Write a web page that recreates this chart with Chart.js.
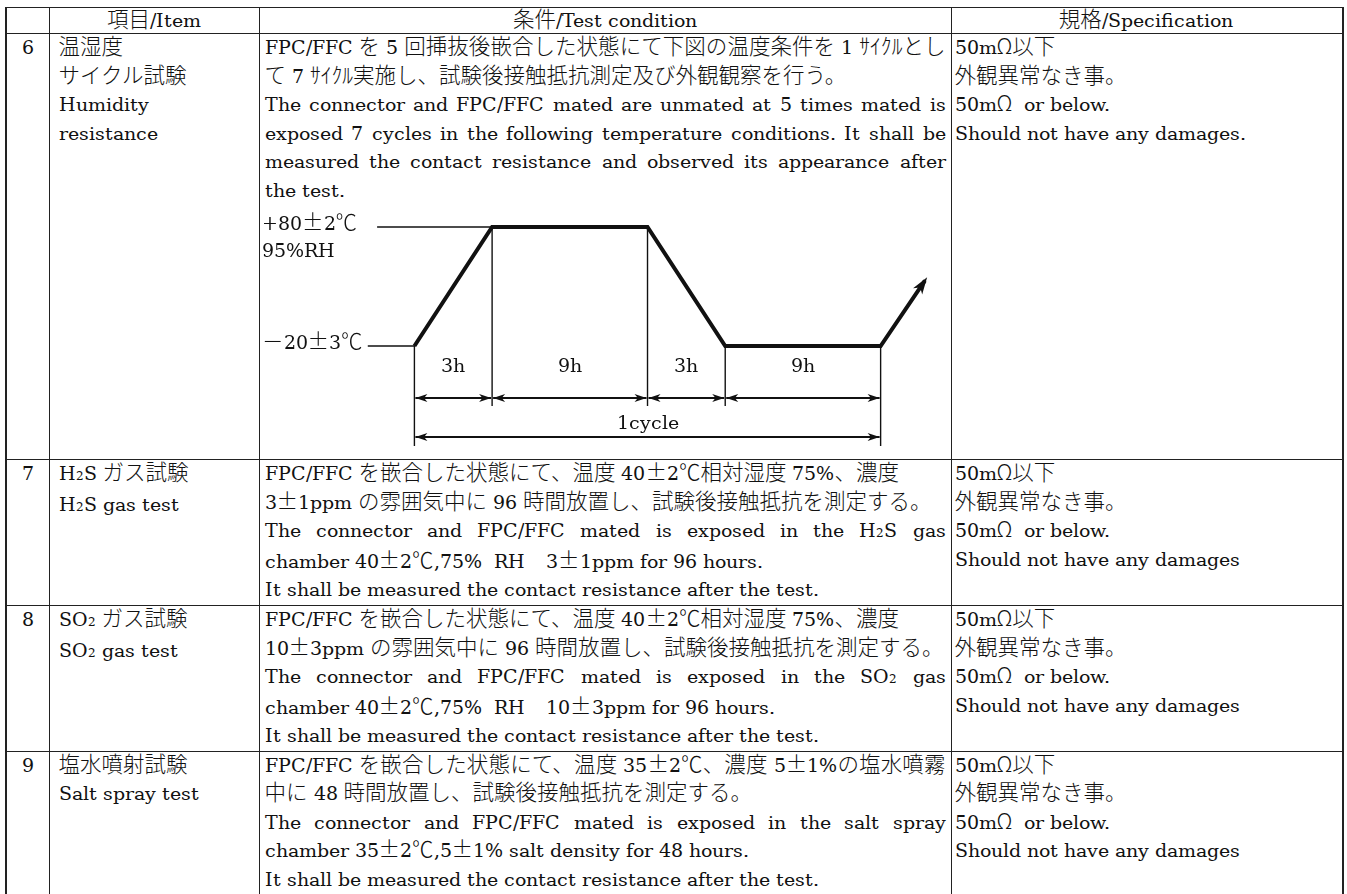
<!DOCTYPE html>
<html lang="ja">
<head>
<meta charset="utf-8">
<title>温湿度サイクル試験</title>
<script src="https://cdn.jsdelivr.net/npm/chart.js@4.4.1/dist/chart.umd.min.js"></script>
<style>
  @font-face {
    font-family: 'Cent';
    src: local('DejaVu Serif');
    size-adjust: 90.5%;
    unicode-range: U+0020-007E;
  }
  html, body { margin: 0; padding: 0; background: #fff; }
  body {
    width: 1347px; height: 894px; overflow: hidden; position: relative;
    font: 300 21.5px/28.5px Cent, 'Noto Sans CJK JP', serif; color: #111;
  }
  table { position: absolute; left: 5px; top: 7px; border-collapse: collapse; table-layout: fixed; }
  td { border: 1px solid #222; vertical-align: top; padding: 0 5px; }
  tr.hd td { text-align: center; vertical-align: middle; line-height: 25px; }
  td.n { text-align: center; padding: 0; border-left-width: 2px; }
  td.item { padding-left: 9px; }
  td.spec { padding-left: 3px; border-right-width: 2px; }
  .j { text-align: justify; text-align-last: justify; }
  .nw { white-space: nowrap; }
  .sub { font-size: 0.62em; }
  #chartBox { position: absolute; left: 259px; top: 200px; width: 690px; height: 255px; }
</style>
</head>
<body>

<table>
  <colgroup>
    <col style="width:43px"><col style="width:210px"><col style="width:692px"><col style="width:392px">
  </colgroup>
  <tr class="hd" style="height:26px">
    <td class="n"></td><td>項目/Item</td><td>条件/Test condition</td><td class="spec">規格/Specification</td>
  </tr>
  <tr style="height:426px">
    <td class="n">6</td>
    <td class="item">温湿度<br>サイクル試験<br>Humidity<br>resistance</td>
    <td>
      <div class="j">FPC/FFC を 5 回挿抜後嵌合した状態にて下図の温度条件を 1 ｻｲｸﾙとし</div>
      <div class="nw">て 7 ｻｲｸﾙ実施し、試験後接触抵抗測定及び外観観察を行う。</div>
      <div class="j">The connector and FPC/FFC mated are unmated at 5 times mated is</div>
      <div class="j">exposed 7 cycles in the following temperature conditions. It shall be</div>
      <div class="j">measured the contact resistance and observed its appearance after</div>
      <div>the test.</div>
    </td>
    <td class="spec">50mΩ以下<br>外観異常なき事。<br>50mΩ&nbsp; or below.<br>Should not have any damages.</td>
  </tr>
  <tr style="height:146px">
    <td class="n">7</td>
    <td class="item">H<span class="sub">2</span>S ガス試験<br>H<span class="sub">2</span>S gas test</td>
    <td>
      <div class="nw">FPC/FFC を嵌合した状態にて、温度 40±2℃相対湿度 75%、濃度</div>
      <div class="nw">3±1ppm の雰囲気中に 96 時間放置し、試験後接触抵抗を測定する。</div>
      <div class="j">The connector and FPC/FFC mated is exposed in the H<span class="sub">2</span>S gas</div>
      <div class="nw">chamber 40±2℃,75%&nbsp; RH　3±1ppm for 96 hours.</div>
      <div class="nw">It shall be measured the contact resistance after the test.</div>
    </td>
    <td class="spec">50mΩ以下<br>外観異常なき事。<br>50mΩ&nbsp; or below.<br>Should not have any damages</td>
  </tr>
  <tr style="height:144px">
    <td class="n">8</td>
    <td class="item">SO<span class="sub">2</span> ガス試験<br>SO<span class="sub">2</span> gas test</td>
    <td>
      <div class="nw">FPC/FFC を嵌合した状態にて、温度 40±2℃相対湿度 75%、濃度</div>
      <div class="nw">10±3ppm の雰囲気中に 96 時間放置し、試験後接触抵抗を測定する。</div>
      <div class="j">The connector and FPC/FFC mated is exposed in the SO<span class="sub">2</span> gas</div>
      <div class="nw">chamber 40±2℃,75%&nbsp; RH　10±3ppm for 96 hours.</div>
      <div class="nw">It shall be measured the contact resistance after the test.</div>
    </td>
    <td class="spec">50mΩ以下<br>外観異常なき事。<br>50mΩ&nbsp; or below.<br>Should not have any damages</td>
  </tr>
  <tr style="height:220px">
    <td class="n">9</td>
    <td class="item">塩水噴射試験<br>Salt spray test</td>
    <td>
      <div class="j">FPC/FFC を嵌合した状態にて、温度 35±2℃、濃度 5±1%の塩水噴霧</div>
      <div class="nw">中に 48 時間放置し、試験後接触抵抗を測定する。</div>
      <div class="j">The connector and FPC/FFC mated is exposed in the salt spray</div>
      <div class="nw">chamber 35±2℃,5±1% salt density for 48 hours.</div>
      <div class="nw">It shall be measured the contact resistance after the test.</div>
    </td>
    <td class="spec">50mΩ以下<br>外観異常なき事。<br>50mΩ&nbsp; or below.<br>Should not have any damages</td>
  </tr>
</table>

<div id="chartBox"><canvas id="cycleChart" width="690" height="255"></canvas></div>

<script>
'use strict';

// ─── temperature cycle sketch data ───
const segLabels = ['3h', '9h', '3h', '9h'];
const segUnits = [1, 2, 1, 2];              // ramp / hold widths as drawn (not to scale)
const profileTemp = [-20, 80, 80, -20, -20];
const riseX = [6, 6.57];                     // start of the next cycle (arrow)
const riseTemp = [-20, 35];
const levelLabels = ['+80±2℃', '95%RH', '－20±3℃'];
const levelLineFrom = [-0.48, -0.6];        // thin level lines (high, low)
const cycleLabel = '1cycle';

const INK = '#111';
const FONT = "300 21.5px Cent, 'Noto Sans CJK JP', serif";

// cumulative breakpoints 0,1,3,4,6
const profileX = segUnits.reduce((acc, u) => { acc.push(acc[acc.length - 1] + u); return acc; }, [0]);

function arrowHead(ctx, x, y, ang, len, half) {
  ctx.save();
  ctx.translate(x, y);
  ctx.rotate(ang);
  ctx.beginPath();
  ctx.moveTo(0, 0);
  ctx.lineTo(-len, -half);
  ctx.lineTo(-len * 0.72, 0);
  ctx.lineTo(-len, half);
  ctx.closePath();
  ctx.fill();
  ctx.restore();
}

function dimLine(ctx, x1, x2, y) {
  ctx.beginPath();
  ctx.moveTo(x1, y);
  ctx.lineTo(x2, y);
  ctx.stroke();
  arrowHead(ctx, x1, y, Math.PI, 12, 4);
  arrowHead(ctx, x2, y, 0, 12, 4);
}

// dimension lines, labels and the arrow head
const sketchPlugin = {
  id: 'sketch',
  afterDatasetsDraw(chart) {
    const { ctx, chartArea, scales: { x, y } } = chart;
    const hiY = y.getPixelForValue(profileTemp[1]);
    const loY = y.getPixelForValue(profileTemp[0]);
    const px = profileX.map(v => x.getPixelForValue(v));
    const last = px.length - 1;

    ctx.save();
    ctx.strokeStyle = INK;
    ctx.fillStyle = INK;

    ctx.lineWidth = 1.4;
    px.forEach((p, i) => {
      const top = y.getPixelForValue(profileTemp[i]);
      const long = i === 0 || i === last;
      ctx.beginPath();
      ctx.moveTo(p, top);
      ctx.lineTo(p, loY + (long ? 100 : 60));
      ctx.stroke();
    });

    ctx.lineWidth = 1.8;
    for (let i = 0; i < segLabels.length; i++) dimLine(ctx, px[i] + 1, px[i + 1] - 1, loY + 52);
    dimLine(ctx, px[0] + 1, px[last] - 1, loY + 91);

    ctx.font = FONT;
    ctx.textBaseline = 'middle';
    ctx.textAlign = 'center';
    segLabels.forEach((t, i) => ctx.fillText(t, (px[i] + px[i + 1]) / 2, loY + 21));
    ctx.fillText(cycleLabel, (px[0] + px[last]) / 2, loY + 78);

    ctx.textAlign = 'left';
    const lx = chartArea.left + 3;
    ctx.fillText(levelLabels[0], lx, hiY - 2);
    ctx.fillText(levelLabels[1], lx, hiY + 25);
    ctx.fillText(levelLabels[2], lx, loY - 2);

    const bx = x.getPixelForValue(riseX[0]), by = y.getPixelForValue(riseTemp[0]);
    const ax = x.getPixelForValue(riseX[1]), ay = y.getPixelForValue(riseTemp[1]);
    const ang = Math.atan2(ay - by, ax - bx);
    arrowHead(ctx, ax + Math.cos(ang) * 4, ay + Math.sin(ang) * 4, ang, 17, 5.5);
    ctx.restore();
  },
};

function drawSketch() {
  const profile = profileX.map((v, i) => ({ x: v, y: profileTemp[i] }))
    .concat([{ x: riseX[1], y: riseTemp[1] }]);

  new Chart(document.getElementById('cycleChart'), {
    type: 'scatter',
    data: {
      datasets: [
        {
          data: profile, showLine: true, borderColor: INK, borderWidth: 4,
          borderJoinStyle: 'miter', pointRadius: 0, clip: false,
        },
        {
          data: [{ x: levelLineFrom[0], y: profileTemp[1] }, { x: profileX[1], y: profileTemp[1] }],
          showLine: true, borderColor: INK, borderWidth: 1.5, pointRadius: 0, clip: false,
        },
        {
          data: [{ x: levelLineFrom[1], y: profileTemp[0] }, { x: profileX[0], y: profileTemp[0] }],
          showLine: true, borderColor: INK, borderWidth: 1.5, pointRadius: 0, clip: false,
        },
      ],
    },
    options: {
      responsive: false,
      animation: false,
      events: [],
      layout: { padding: 0 },
      plugins: { legend: { display: false }, tooltip: { enabled: false } },
      scales: {
        x: { type: 'linear', display: false, min: -2.0, max: 6.88 },
        y: { type: 'linear', display: false, min: -111.6, max: 102.7 },
      },
    },
    plugins: [sketchPlugin],
  });
}

Promise.all([
  document.fonts.load(FONT, 'The 3h cycle'),
  document.fonts.load("300 21.5px 'Noto Sans CJK JP'", '℃±－'),
]).catch(() => {}).then(drawSketch);
</script>
</body>
</html>
